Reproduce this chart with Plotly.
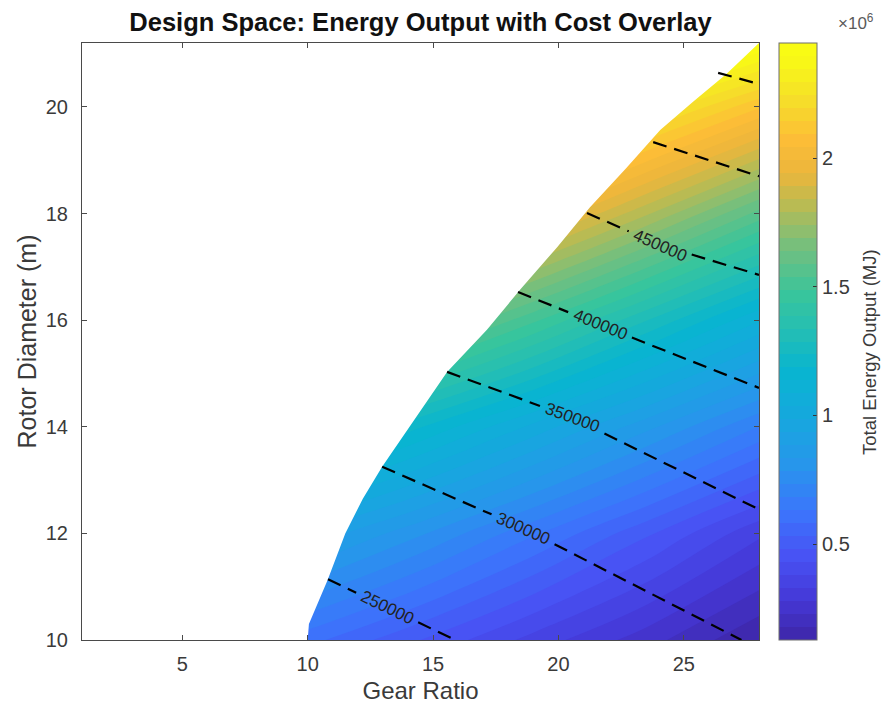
import math
import numpy as np
import plotly.graph_objects as go

# ---------------- data ----------------
gear_grid = [1, 5.5, 10, 14.5, 19, 23.5, 28]
diam_grid = [10, 12, 14, 16, 18, 20, 22]
# total energy output, x1e6 MJ (rows follow diam_grid, columns follow gear_grid)
energy_e6 = [
    [0.83, 0.72, 0.60, 0.48, 0.36, 0.25, 0.13],
    [1.23, 1.08, 0.93, 0.79, 0.64, 0.49, 0.34],
    [1.71, 1.54, 1.36, 1.19, 1.02, 0.85, 0.68],
    [2.31, 2.10, 1.90, 1.70, 1.50, 1.29, 1.09],
    [2.92, 2.70, 2.47, 2.25, 2.02, 1.80, 1.57],
    [3.32, 3.11, 2.91, 2.71, 2.51, 2.30, 2.10],
    [3.90, 3.69, 3.49, 3.29, 3.09, 2.88, 2.68],
]
energy_min_e6, energy_max_e6 = 0.127, 2.447

# edge of the feasible design space
boundary_gear = [10.0, 10.05, 10.4, 10.8, 11.5, 12.2, 12.97, 13.84, 14.68, 15.56, 17.15,
                 18.47, 19.95, 21.26, 22.7, 24.06, 25.37, 26.7, 28.0]
boundary_diam = [10.0, 10.3, 10.7, 11.13, 12.0, 12.65, 13.25, 13.85, 14.43, 15.03, 15.82,
                 16.57, 17.37, 18.12, 18.85, 19.57, 20.1, 20.62, 21.2]

# cost iso-lines (dashed)
cost_levels = [250000, 300000, 350000, 400000, 450000, 500000, 550000]
cost_gear = [
    [10.81, 15.88],
    [12.97, 18.59, 27.3],
    [15.56, 20.55, 28.0],
    [18.39, 21.66, 28.0],
    [21.14, 24.06, 28.0],
    [23.78, 28.0],
    [26.37, 28.0],
]
cost_diam = [
    [11.14, 10.0],
    [13.25, 12.10, 10.0],
    [15.03, 14.17, 12.45],
    [16.53, 15.91, 14.73],
    [18.01, 17.41, 16.85],
    [19.34, 18.70],
    [20.64, 20.43],
]
cost_label_gear = [13.17, 18.59, 20.55, 21.66, 24.06, None, None]

x_ticks = [5, 10, 15, 20, 25]
y_ticks = [10, 12, 14, 16, 18, 20]
cbar_ticks_e6 = [0.5, 1, 1.5, 2]
cbar_ticktext = ["0.5", "1", "1.5", "2"]

# ---------------- styling / layout ----------------
W, H = 889, 713
OFF = 8                      # page body margin
ML, MT = 82 - OFF, 43 - OFF
plot_w, plot_h = 759 - 82, 640 - 43
MR = W - ML - plot_w
MB = H - MT - plot_h
x_range = [1, 28]
y_range = [10, 21.2]
px_x = plot_w / (x_range[1] - x_range[0])
px_y = plot_h / (y_range[1] - y_range[0])

FONT = "Liberation Sans, Arial, Helvetica, sans-serif"
TXT = "#3a3a3a"

parula = [
    [0.000, "rgb(62,38,168)"],
    [0.070, "rgb(69,56,215)"],
    [0.143, "rgb(72,82,244)"],
    [0.220, "rgb(59,118,252)"],
    [0.300, "rgb(39,150,235)"],
    [0.380, "rgb(22,168,222)"],
    [0.460, "rgb(8,181,208)"],
    [0.530, "rgb(36,190,180)"],
    [0.590, "rgb(55,197,157)"],
    [0.670, "rgb(113,191,128)"],
    [0.750, "rgb(190,187,80)"],
    [0.800, "rgb(236,182,60)"],
    [0.860, "rgb(253,190,55)"],
    [0.930, "rgb(245,225,40)"],
    [1.000, "rgb(249,251,20)"],
]

fig = go.Figure()

z = [[v * 1e6 for v in row] for row in energy_e6]
n_levels = 46
fig.add_trace(go.Contour(
    x=gear_grid, y=diam_grid, z=z,
    colorscale=parula,
    zmin=energy_min_e6 * 1e6, zmax=energy_max_e6 * 1e6,
    contours=dict(start=energy_min_e6 * 1e6, end=energy_max_e6 * 1e6,
                  size=(energy_max_e6 - energy_min_e6) * 1e6 / n_levels,
                  coloring="fill", showlines=False),
    line=dict(width=0),
    hoverinfo="skip",
    colorbar=dict(
        x=(779 - 82) / plot_w, xanchor="left", xpad=0,
        y=0.5, yanchor="middle", len=1, lenmode="fraction", ypad=0,
        thickness=38, outlinewidth=1, outlinecolor="#6e6e6e",
        tickmode="array", tickvals=[t * 1e6 for t in cbar_ticks_e6], ticktext=cbar_ticktext,
        ticks="inside", ticklen=4, tickcolor="#333333",
        tickfont=dict(family=FONT, size=20, color=TXT),
    ),
))

# white mask over the infeasible region
poly_x = [x_range[0]] + boundary_gear + [x_range[0]]
poly_y = [y_range[0]] + boundary_diam + [boundary_diam[-1]]
fig.add_trace(go.Scatter(x=poly_x, y=poly_y, fill="toself", fillcolor="white",
                         mode="lines", line=dict(width=0, color="white"),
                         hoverinfo="skip", showlegend=False))

annotations = []
label_size = 17
dash_style = dict(color="black", width=2.2, dash="14px,8px")
for lvl, gx, gy, lx in zip(cost_levels, cost_gear, cost_diam, cost_label_gear):
    xs = list(gx)
    ys = list(gy)
    if lx is None:
        fig.add_trace(go.Scatter(x=xs, y=ys, mode="lines", line=dash_style,
                                 hoverinfo="skip", showlegend=False))
        continue
    ly = float(np.interp(lx, xs, ys))
    i = max(0, min(len(xs) - 2, int(np.searchsorted(xs, lx)) - 1))
    sx = (xs[i + 1] - xs[i]) * px_x
    sy = (ys[i + 1] - ys[i]) * px_y
    ang = math.degrees(math.atan2(-sy, sx))
    half_px = len(str(lvl)) * 0.556 * label_size / 2 + 6
    g = half_px * math.cos(math.radians(ang)) / px_x
    xl, xr = lx - g, lx + g
    left_x = [v for v in xs if v < xl] + [xl]
    right_x = [xr] + [v for v in xs if v > xr]
    seg_x = left_x + [None] + right_x
    seg_y = [float(np.interp(v, xs, ys)) for v in left_x] + [None] + \
            [float(np.interp(v, xs, ys)) for v in right_x]
    fig.add_trace(go.Scatter(x=seg_x, y=seg_y, mode="lines", line=dash_style,
                             hoverinfo="skip", showlegend=False))
    annotations.append(dict(x=lx, y=ly, xref="x", yref="y", text=str(lvl),
                            showarrow=False, textangle=ang,
                            font=dict(family=FONT, size=label_size, color="#222222")))

# colorbar exponent and title
annotations.append(dict(x=(836 - 82) / plot_w, y=1 + 21 / plot_h, xref="paper", yref="paper",
                        xanchor="left", yanchor="middle", showarrow=False,
                        text="×10<sup>6</sup>", font=dict(family=FONT, size=17, color="#5a5a5a")))
annotations.append(dict(x=(869 - 82) / plot_w, y=(640 - 352) / plot_h, xref="paper", yref="paper",
                        xanchor="center", yanchor="middle", showarrow=False, textangle=-90,
                        text="Total Energy Output (MJ)", font=dict(family=FONT, size=18.5, color=TXT)))

axis_common = dict(
    showline=True, linecolor="#4a4a4a", linewidth=1, mirror="ticks",
    ticks="inside", ticklen=5, tickcolor="#4a4a4a",
    showgrid=True, gridcolor="rgba(38,38,38,0.15)", gridwidth=1,
    zeroline=False, layer="above traces",
    tickfont=dict(family=FONT, size=20, color=TXT),
)

fig.update_layout(
    width=W, height=H,
    margin=dict(l=ML, r=MR, t=MT, b=MB),
    paper_bgcolor="white", plot_bgcolor="white",
    showlegend=False,
    title=dict(text="Design Space: Energy Output with Cost Overlay",
               x=(ML + plot_w / 2) / W, xanchor="center", xref="container",
               y=1 - (22 - OFF) / H, yanchor="middle", yref="container",
               font=dict(family=FONT, size=25.5, color="#111111", weight="bold")),
    xaxis=dict(range=x_range, tickvals=x_ticks, ticklabelstandoff=6,
               title=dict(text="Gear Ratio", font=dict(family=FONT, size=24, color=TXT), standoff=8),
               **axis_common),
    yaxis=dict(range=y_range, tickvals=y_ticks, ticklabelstandoff=9,
               title=dict(text="Rotor Diameter (m)", font=dict(family=FONT, size=25, color=TXT), standoff=2),
               **axis_common),
    annotations=annotations,
)

fig.write_html("out.html")
